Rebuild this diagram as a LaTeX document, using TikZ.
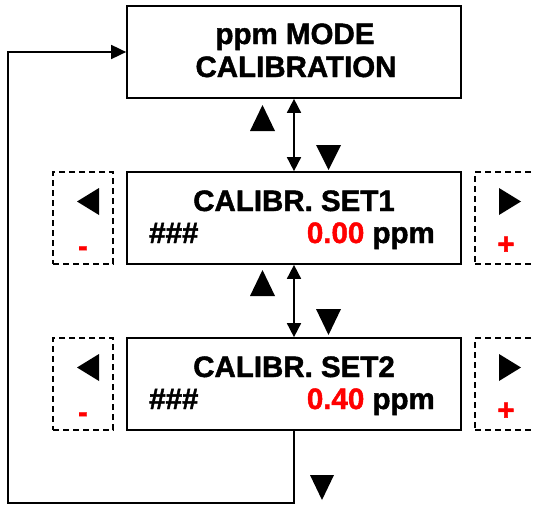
\documentclass[tikz,border=0pt]{standalone}
\usepackage{fontspec}
\setmainfont{Liberation Sans}
\newfontfamily\heavyfont{Liberation Sans Bold}[FakeBold=1.5]
\usetikzlibrary{arrows.meta}
\definecolor{myred}{RGB}{255,0,0}
\begin{document}
\begin{tikzpicture}[x=1pt,y=-1pt,
  mainbox/.style={draw, line width=1.7pt, minimum width=334pt, minimum height=92pt, inner sep=0pt},
  dbox/.style={draw, line width=1.8pt, dash pattern=on 6pt off 4pt, minimum width=60pt, minimum height=92pt, inner sep=0pt},
  txt/.style={font=\fontsize{29.5}{31}\heavyfont, inner sep=0pt, anchor=base},
  redtxt/.style={txt, text=myred},
  conn/.style={line width=1.7pt},
  arr/.style={conn, -{Triangle[width=14pt,length=15pt]}},
  dbl/.style={conn, {Triangle[width=14pt,length=14pt]}-{Triangle[width=14pt,length=14pt]}},
  tri/.style={fill=black}
]
\useasboundingbox (0,0) rectangle (533,506);
\clip (0,0) rectangle (533,506);
% main boxes
\node[mainbox] (top) at (294,52) {};
\node[mainbox] (s1) at (294,218) {};
\node[mainbox] (s2) at (294,384) {};
% side dashed boxes
\node[dbox] (l1) at (83,218) {};
\node[dbox] (r1) at (506,218) [minimum width=62pt] {};
\node[dbox] (l2) at (83,384) {};
\node[dbox] (r2) at (506,384) [minimum width=62pt] {};
% texts
\node[txt] (tt1) at (295,44) {ppm MODE};
\node[txt] (tt2) at (296,77) {CALIBRATION};
\node[txt] (a1) at (294,211) {CALIBR. SET1};
\node[txt, anchor=base west] (h1) at (149,243) {\#\#\#};
\node[txt, anchor=base east] (p1) at (435,243) {\textcolor{myred}{0.00} ppm};
\node[txt] (a2) at (294,377) {CALIBR. SET2};
\node[txt, anchor=base west] (h2) at (149,409) {\#\#\#};
\node[txt, anchor=base east] (p2) at (435,409) {\textcolor{myred}{0.40} ppm};
% minus / plus
\node[redtxt] (m1) at (83,256) {-};
\node[redtxt] (pl1) at (506,254) {+};
\node[redtxt] (m2) at (83,422) {-};
\node[redtxt] (pl2) at (506,420) {+};
% side triangles
\fill[tri] (77,201.5) -- (99,188) -- (99,215) -- cycle;
\fill[tri] (521,201.5) -- (499,188) -- (499,215) -- cycle;
\fill[tri] (77,367.5) -- (99,354) -- (99,381) -- cycle;
\fill[tri] (521,367.5) -- (499,354) -- (499,381) -- cycle;
% up / down triangles
\fill[tri] (262.5,105) -- (275,131) -- (250,131) -- cycle;
\fill[tri] (328.5,170) -- (341,145) -- (316,145) -- cycle;
\fill[tri] (262.5,270) -- (275,296) -- (250,296) -- cycle;
\fill[tri] (328.5,335) -- (341,309) -- (316,309) -- cycle;
\fill[tri] (322,500) -- (334,475) -- (310,475) -- cycle;
% connectors
\draw[dbl] (top.south) -- (s1.north);
\draw[dbl] (s1.south) -- (s2.north);
\coordinate (lp) at (8,503);
\draw[arr] (s2.south) |- (lp) |- (top.west);
\end{tikzpicture}
\end{document}
